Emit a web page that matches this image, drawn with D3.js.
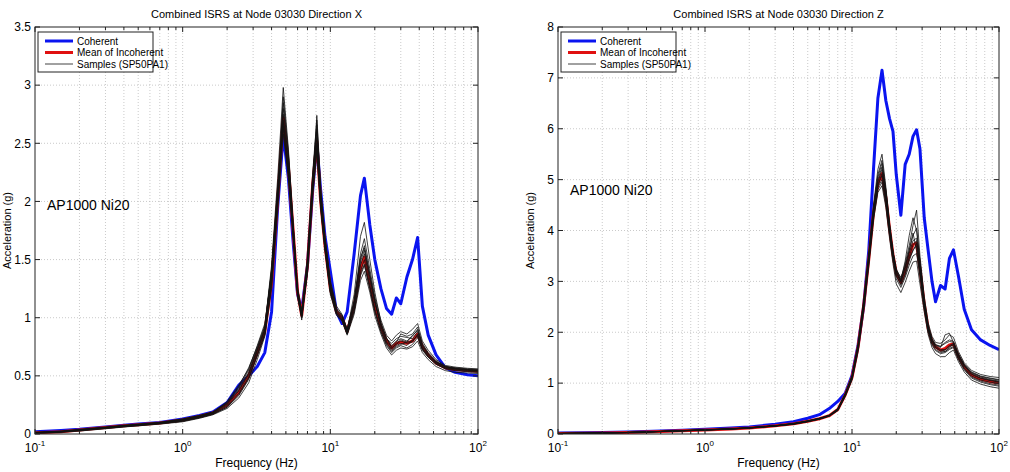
<html>
<head>
<title>Combined ISRS at Node 03030</title>
<script src="https://d3js.org/d3.v7.min.js"></script>
<style>
body { margin:0; background:#ffffff; }
text { font-family: Arial, "Liberation Sans", sans-serif; fill:#000; }
</style>
</head>
<body>
<div id="canvas"></div>
<script>

// ---- Direction X (left panel) ----
var freqX = [0.1, 0.15, 0.2, 0.3, 0.4, 0.5, 0.7, 1.0, 1.3, 1.6,
             2.0, 2.4, 2.8, 3.2, 3.6, 4.0, 4.4, 4.8, 5.2, 5.6,
             6.0, 6.4, 7.0, 7.6, 8.1, 8.6, 9.2, 10, 11, 12,
             13, 14.5, 16, 17, 18.5, 20, 22, 24, 26, 28,
             30, 33, 36, 39, 42, 46, 52, 60, 70, 85, 100];

var coherentX = [0.02,0.03,0.04,0.06,0.075,0.085,0.10,0.13,0.16,0.19,
                 0.27,0.42,0.50,0.58,0.70,1.05,1.95,2.57,2.2,1.65,
                 1.2,1.07,1.45,2.1,2.5,2.1,1.7,1.40,1.05,0.95,
                 1.05,1.55,2.05,2.2,1.8,1.5,1.25,1.08,1.03,1.17,
                 1.12,1.35,1.5,1.69,1.1,0.85,0.68,0.57,0.53,0.51,0.50];

var meanX = [0.01,0.02,0.035,0.055,0.07,0.08,0.095,0.12,0.15,0.18,
             0.25,0.36,0.50,0.70,0.88,1.30,2.02,2.72,2.30,1.75,
             1.22,1.02,1.45,2.15,2.52,2.0,1.62,1.25,1.05,1.0,
             0.88,1.1,1.42,1.52,1.3,1.1,0.92,0.80,0.74,0.78,
             0.79,0.78,0.80,0.86,0.75,0.68,0.61,0.57,0.555,0.545,0.54];

var samplesX = [
  [0.01,0.02,0.03,0.05,0.065,0.075,0.09,0.11,0.14,0.17,0.23,0.33,0.47,0.68,0.86,1.30,2.00,2.65,2.25,1.70,1.18,1.00,1.40,2.10,2.48,1.98,1.60,1.22,1.03,0.98,0.86,1.06,1.36,1.45,1.25,1.05,0.88,0.76,0.70,0.74,0.76,0.74,0.77,0.83,0.72,0.66,0.60,0.56,0.545,0.535,0.53],
  [0.015,0.025,0.04,0.06,0.075,0.085,0.10,0.13,0.16,0.19,0.27,0.40,0.55,0.74,0.92,1.45,2.20,2.98,2.45,1.82,1.25,1.05,1.52,2.25,2.70,2.10,1.68,1.30,1.08,1.02,0.90,1.15,1.55,1.68,1.42,1.18,0.98,0.85,0.80,0.85,0.88,0.86,0.90,0.95,0.80,0.72,0.64,0.59,0.575,0.565,0.56],
  [0.005,0.015,0.025,0.045,0.06,0.07,0.085,0.105,0.135,0.165,0.22,0.31,0.44,0.64,0.84,1.25,1.92,2.58,2.20,1.68,1.20,1.03,1.38,2.05,2.42,1.95,1.58,1.20,1.02,0.97,0.85,1.03,1.32,1.40,1.22,1.02,0.86,0.74,0.68,0.72,0.74,0.73,0.75,0.80,0.70,0.64,0.58,0.545,0.53,0.525,0.52],
  [0.01,0.02,0.035,0.055,0.07,0.08,0.095,0.12,0.15,0.18,0.26,0.38,0.52,0.72,0.90,1.40,2.10,2.80,2.35,1.78,1.24,1.04,1.48,2.20,2.60,2.05,1.66,1.28,1.06,1.01,0.89,1.20,1.70,1.82,1.50,1.22,0.96,0.82,0.76,0.80,0.82,0.80,0.84,0.90,0.78,0.70,0.63,0.58,0.565,0.555,0.55],
  [0.012,0.022,0.036,0.056,0.072,0.082,0.098,0.125,0.155,0.185,0.28,0.42,0.56,0.76,0.95,1.38,2.05,2.70,2.32,1.76,1.23,1.01,1.44,2.12,2.55,2.02,1.64,1.26,1.05,1.00,0.87,1.08,1.45,1.55,1.32,1.12,0.94,0.82,0.78,0.82,0.84,0.83,0.82,0.88,0.76,0.69,0.62,0.58,0.56,0.55,0.545],
  [0.008,0.018,0.032,0.052,0.066,0.076,0.092,0.115,0.145,0.175,0.24,0.35,0.49,0.69,0.87,1.33,2.02,2.75,2.28,1.72,1.20,0.98,1.42,2.18,2.62,2.00,1.62,1.24,1.04,0.99,0.88,1.12,1.48,1.58,1.35,1.14,0.95,0.83,0.74,0.77,0.80,0.78,0.79,0.86,0.74,0.67,0.61,0.57,0.555,0.545,0.54],
  [0.01,0.02,0.034,0.054,0.068,0.078,0.094,0.118,0.148,0.178,0.25,0.37,0.51,0.71,0.89,1.36,2.08,2.85,2.40,1.80,1.22,1.06,1.46,2.16,2.50,1.96,1.60,1.23,1.05,1.00,0.86,1.10,1.40,1.50,1.28,1.08,0.90,0.78,0.72,0.76,0.78,0.76,0.81,0.84,0.73,0.67,0.61,0.57,0.56,0.55,0.545],
  [0.014,0.024,0.038,0.058,0.074,0.084,0.1,0.128,0.158,0.188,0.26,0.39,0.53,0.73,0.90,1.42,2.12,2.62,2.22,1.70,1.19,1.02,1.50,2.22,2.66,2.08,1.70,1.32,1.10,1.03,0.90,1.14,1.50,1.62,1.38,1.16,0.92,0.80,0.75,0.79,0.86,0.84,0.86,0.92,0.77,0.69,0.62,0.58,0.57,0.56,0.555],
  [0.006,0.016,0.028,0.048,0.062,0.072,0.088,0.11,0.14,0.17,0.23,0.34,0.48,0.67,0.85,1.28,1.96,2.68,2.26,1.74,1.21,1.00,1.40,2.08,2.45,1.94,1.58,1.22,1.04,0.98,0.86,1.05,1.38,1.46,1.26,1.06,0.88,0.77,0.71,0.75,0.77,0.79,0.80,0.85,0.73,0.66,0.60,0.565,0.55,0.54,0.535],
  [0.012,0.022,0.036,0.056,0.07,0.08,0.096,0.122,0.152,0.182,0.27,0.41,0.57,0.75,0.93,1.40,2.06,2.90,2.42,1.80,1.26,1.04,1.47,2.14,2.74,2.12,1.69,1.29,1.07,1.02,0.88,1.13,1.52,1.60,1.37,1.15,0.93,0.79,0.73,0.78,0.81,0.79,0.85,0.89,0.75,0.68,0.62,0.58,0.565,0.555,0.55]
];

// ---- Direction Z (right panel) ----
var freqZ = [0.1, 0.15, 0.2, 0.3, 0.5, 0.7, 1.0, 1.5, 2, 3,
             4, 5, 6, 7, 8, 9, 10, 11, 12, 13,
             14, 15, 16, 17, 18, 19, 20, 21.5, 23, 24.5,
             26, 27.5, 29, 31, 33, 35, 37, 40, 43, 46,
             49, 53, 58, 65, 75, 87, 100];

var coherentZ = [0.02,0.025,0.03,0.04,0.06,0.075,0.095,0.12,0.14,0.19,
                 0.24,0.31,0.38,0.50,0.64,0.80,1.15,1.75,2.5,3.6,
                 5.2,6.6,7.15,6.55,6.2,5.95,5.1,4.3,5.3,5.5,
                 5.85,5.98,5.6,4.25,3.6,3.0,2.6,2.92,2.85,3.45,
                 3.62,3.1,2.45,2.05,1.85,1.74,1.66];

var meanZ = [0.01,0.015,0.02,0.03,0.05,0.065,0.08,0.10,0.12,0.16,
             0.20,0.25,0.30,0.36,0.48,0.77,1.11,1.71,2.52,3.43,
             4.34,4.92,5.12,4.65,4.04,3.53,3.16,2.98,3.22,3.50,
             3.72,3.75,3.25,2.56,2.07,1.82,1.71,1.65,1.68,1.75,
             1.77,1.52,1.32,1.16,1.08,1.03,1.00];

var samplesZ = [
  [0.01,0.015,0.02,0.03,0.05,0.065,0.08,0.10,0.12,0.16,0.20,0.25,0.30,0.36,0.48,0.78,1.12,1.72,2.55,3.45,4.35,4.95,5.20,4.70,4.05,3.55,3.20,3.00,3.25,3.55,3.80,3.85,3.30,2.60,2.10,1.85,1.72,1.66,1.66,1.74,1.78,1.55,1.35,1.20,1.12,1.07,1.04],
  [0.012,0.017,0.022,0.032,0.052,0.068,0.085,0.105,0.125,0.165,0.21,0.26,0.31,0.37,0.50,0.80,1.15,1.78,2.62,3.55,4.50,5.20,5.50,4.85,4.15,3.60,3.25,3.05,3.35,3.70,4.10,4.40,3.50,2.70,2.18,1.92,1.80,1.78,1.85,1.95,1.90,1.62,1.40,1.25,1.17,1.13,1.11],
  [0.008,0.013,0.018,0.028,0.048,0.062,0.075,0.095,0.115,0.155,0.19,0.24,0.29,0.35,0.46,0.74,1.06,1.62,2.40,3.30,4.20,4.75,4.88,4.45,3.85,3.35,2.95,2.78,2.98,3.20,3.38,3.40,2.95,2.40,1.95,1.70,1.58,1.52,1.52,1.60,1.65,1.42,1.22,1.06,0.98,0.93,0.90],
  [0.01,0.015,0.02,0.03,0.05,0.065,0.08,0.10,0.12,0.16,0.20,0.25,0.30,0.36,0.47,0.76,1.10,1.70,2.50,3.40,4.30,4.88,5.08,4.62,4.02,3.50,3.12,2.95,3.15,3.45,3.60,3.75,3.25,2.55,2.05,1.80,1.70,1.62,1.65,1.72,1.76,1.50,1.30,1.14,1.06,1.02,0.99],
  [0.011,0.016,0.021,0.031,0.051,0.066,0.082,0.102,0.122,0.162,0.205,0.255,0.305,0.365,0.49,0.79,1.13,1.74,2.58,3.50,4.42,5.05,5.32,4.78,4.10,3.58,3.22,3.02,3.40,3.90,4.25,4.00,3.38,2.65,2.12,1.88,1.76,1.72,1.80,1.85,1.82,1.58,1.37,1.22,1.14,1.10,1.07],
  [0.009,0.014,0.019,0.029,0.049,0.063,0.078,0.098,0.118,0.158,0.195,0.245,0.295,0.355,0.46,0.75,1.08,1.66,2.45,3.35,4.25,4.80,4.95,4.52,3.92,3.42,3.05,2.88,3.08,3.32,3.50,3.55,3.10,2.48,2.00,1.75,1.64,1.58,1.60,1.66,1.70,1.46,1.26,1.10,1.02,0.97,0.94],
  [0.01,0.015,0.02,0.03,0.05,0.065,0.08,0.10,0.12,0.16,0.20,0.25,0.30,0.36,0.48,0.77,1.11,1.71,2.52,3.42,4.32,4.90,5.12,4.66,4.05,3.52,3.18,2.98,3.30,3.62,3.95,3.60,3.15,2.52,2.06,1.82,1.74,1.70,1.95,1.98,1.80,1.52,1.33,1.17,1.09,1.05,1.02],
  [0.011,0.016,0.021,0.031,0.051,0.066,0.082,0.102,0.122,0.162,0.205,0.255,0.305,0.365,0.49,0.79,1.13,1.75,2.60,3.52,4.45,5.10,5.38,4.80,4.12,3.58,3.10,2.92,3.12,3.40,3.62,3.70,3.28,2.58,2.08,1.84,1.70,1.64,1.62,1.70,1.76,1.56,1.36,1.21,1.13,1.09,1.06],
  [0.009,0.014,0.019,0.029,0.049,0.063,0.078,0.098,0.118,0.158,0.195,0.245,0.295,0.355,0.47,0.76,1.09,1.68,2.48,3.38,4.28,4.85,5.00,4.58,3.98,3.48,3.15,3.00,3.20,3.48,3.72,3.80,3.22,2.52,2.04,1.78,1.66,1.60,1.62,1.68,1.72,1.48,1.28,1.12,1.04,0.99,0.96],
  [0.01,0.015,0.02,0.03,0.05,0.065,0.08,0.10,0.12,0.16,0.20,0.25,0.30,0.36,0.48,0.78,1.12,1.73,2.56,3.48,4.40,5.00,5.25,4.72,4.08,3.56,3.22,3.08,3.28,3.60,3.90,4.05,3.40,2.62,2.10,1.86,1.75,1.72,1.78,1.82,1.80,1.54,1.34,1.18,1.10,1.06,1.03]
];

var legendLabels = ["Coherent", "Mean of Incoherent", "Samples (SP50PA1)"];
var xDecades = [0.1, 1, 10, 100];
var xExponents = ["-1", "0", "1", "2"];
var yTicksX = [0, 0.5, 1, 1.5, 2, 2.5, 3, 3.5];
var yTicksZ = [0, 1, 2, 3, 4, 5, 6, 7, 8];

var svg = d3.select("#canvas")
            .append("svg")
            .attr("width", 1010)
            .attr("height", 472);

var plotTop = 27, plotBottom = 434;

function drawPanel(p) {
   var g = svg.append("g");
   var x = d3.scaleLog().domain([0.1, 100]).range([p.left, p.right]);
   var y = d3.scaleLinear().domain([0, p.ymax]).range([plotBottom, plotTop]);

   var allX = x.ticks();
   var isMajor = function(d) {
      return xDecades.some(function(m) { return Math.abs(d / m - 1) < 1e-6; });
   };

   // grid
   g.selectAll(".gx")
    .data(allX.filter(function(d) { return d > 0.1001 && d < 99.9; }))
    .enter().append("line")
    .attr("x1", function(d) { return x(d); })
    .attr("x2", function(d) { return x(d); })
    .attr("y1", plotTop).attr("y2", plotBottom)
    .style("stroke", "#bcbcbc")
    .style("stroke-dasharray", "1,2")
    .style("stroke-width", 0.8);

   g.selectAll(".gy")
    .data(p.yticks.slice(1, -1))
    .enter().append("line")
    .attr("x1", p.left).attr("x2", p.right)
    .attr("y1", function(d) { return y(d); })
    .attr("y2", function(d) { return y(d); })
    .style("stroke", "#bcbcbc")
    .style("stroke-dasharray", "1,2")
    .style("stroke-width", 0.8);

   var line = d3.line()
                .x(function(d) { return x(d[0]); })
                .y(function(d) { return y(d[1]); });

   function pairs(vals) {
      return p.freq.map(function(f, i) { return [f, vals[i]]; })
                   .filter(function(d) { return d[1] != null; });
   }

   g.append("clipPath").attr("id", "clip" + p.id)
    .append("rect")
    .attr("x", p.left).attr("y", plotTop)
    .attr("width", p.right - p.left).attr("height", plotBottom - plotTop);

   var curves = g.append("g").attr("clip-path", "url(#clip" + p.id + ")");

   curves.append("path")
         .attr("d", line(pairs(p.coherent)))
         .style("fill", "none").style("stroke", "#0a14f0").style("stroke-width", 3)
         .style("stroke-linejoin", "round");

   curves.append("path")
         .attr("d", line(pairs(p.mean)))
         .style("fill", "none").style("stroke", "#e01010").style("stroke-width", 3)
         .style("stroke-linejoin", "round");

   curves.selectAll(".sample")
         .data(p.samples)
         .enter().append("path")
         .attr("d", function(s) { return line(pairs(s)); })
         .style("fill", "none").style("stroke", "#111").style("stroke-width", 0.8);

   // box
   g.append("rect")
    .attr("x", p.left).attr("y", plotTop)
    .attr("width", p.right - p.left).attr("height", plotBottom - plotTop)
    .style("fill", "none").style("stroke", "#222").style("stroke-width", 1);

   // x ticks (inward, bottom and top)
   allX.forEach(function(d) {
      var len = isMajor(d) ? 5 : 3;
      g.append("line").attr("x1", x(d)).attr("x2", x(d))
       .attr("y1", plotBottom).attr("y2", plotBottom - len).style("stroke", "#222");
      g.append("line").attr("x1", x(d)).attr("x2", x(d))
       .attr("y1", plotTop).attr("y2", plotTop + len).style("stroke", "#222");
   });

   // y ticks (inward, left and right)
   p.yticks.forEach(function(d) {
      g.append("line").attr("x1", p.left).attr("x2", p.left + 5)
       .attr("y1", y(d)).attr("y2", y(d)).style("stroke", "#222");
      g.append("line").attr("x1", p.right).attr("x2", p.right - 5)
       .attr("y1", y(d)).attr("y2", y(d)).style("stroke", "#222");
   });

   // y tick labels
   g.selectAll(".ylab")
    .data(p.yticks)
    .enter().append("text")
    .attr("x", p.left - 4)
    .attr("y", function(d) { return y(d); })
    .attr("dy", "0.36em")
    .attr("text-anchor", "end")
    .style("font-size", "12px")
    .text(function(d) { return d; });

   // x tick labels with superscript
   xDecades.forEach(function(d, i) {
      var t = g.append("text")
               .attr("x", x(d))
               .attr("y", 452)
               .attr("text-anchor", "middle")
               .style("font-size", "12px");
      t.append("tspan").text("10");
      t.append("tspan").attr("dy", -6).style("font-size", "8px").text(xExponents[i]);
   });

   // title and axis labels
   g.append("text")
    .attr("x", (p.left + p.right) / 2).attr("y", 18)
    .attr("text-anchor", "middle")
    .style("font-size", "11px")
    .text(p.title);

   g.append("text")
    .attr("x", (p.left + p.right) / 2).attr("y", 467)
    .attr("text-anchor", "middle")
    .style("font-size", "12px")
    .text("Frequency (Hz)");

   g.append("text")
    .attr("transform", "translate(" + (p.left - 24) + "," + ((plotTop + plotBottom) / 2) + ") rotate(-90)")
    .attr("text-anchor", "middle")
    .style("font-size", "11px")
    .text("Acceleration (g)");

   // annotation
   g.append("text")
    .attr("x", p.left + p.noteDx).attr("y", p.noteY)
    .style("font-size", "14px")
    .text("AP1000 Ni20");

   // legend
   var lg = g.append("g").attr("transform", "translate(" + (p.left + 3) + ",32)");
   lg.append("rect")
     .attr("width", 115).attr("height", 40)
     .style("fill", "#fff").style("stroke", "#222").style("stroke-width", 1);
   var lcol = ["#0a14f0", "#e01010", "#111"];
   var lw = [3, 3, 0.8];
   legendLabels.forEach(function(lbl, i) {
      lg.append("line")
        .attr("x1", 7).attr("x2", 35)
        .attr("y1", 9 + i * 11.5).attr("y2", 9 + i * 11.5)
        .style("stroke", lcol[i]).style("stroke-width", lw[i]);
      lg.append("text")
        .attr("x", 39).attr("y", 9 + i * 11.5)
        .attr("dy", "0.35em")
        .style("font-size", "10px")
        .text(lbl);
   });
}

drawPanel({ id: "X", left: 35, right: 478, ymax: 3.5, yticks: yTicksX,
            freq: freqX, coherent: coherentX, mean: meanX, samples: samplesX,
            title: "Combined ISRS at Node 03030 Direction X", noteDx: 12, noteY: 210 });

drawPanel({ id: "Z", left: 558, right: 999, ymax: 8, yticks: yTicksZ,
            freq: freqZ, coherent: coherentZ, mean: meanZ, samples: samplesZ,
            title: "Combined ISRS at Node 03030 Direction Z", noteDx: 12, noteY: 195 });

</script>
</body>
</html>
